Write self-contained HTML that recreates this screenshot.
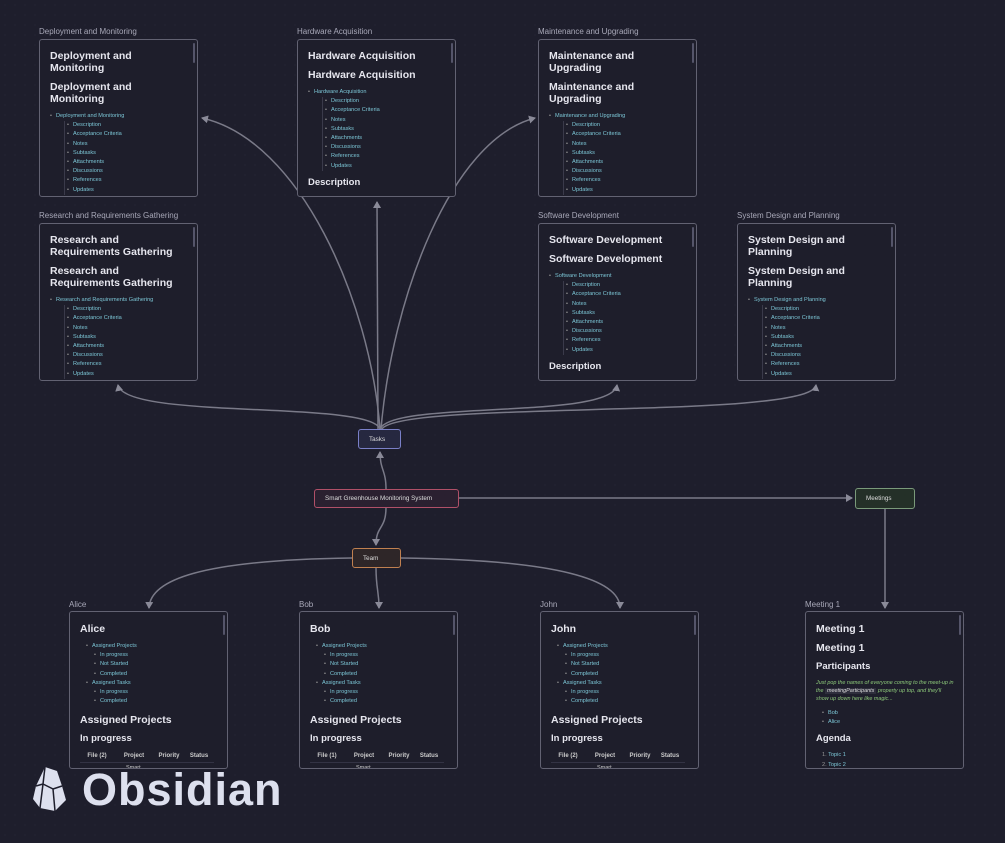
<!DOCTYPE html>
<html><head><meta charset="utf-8"><style>
*{margin:0;padding:0;box-sizing:border-box}
body{width:1005px;height:843px;background:#1e1e2c;font-family:"Liberation Sans",sans-serif;position:relative;overflow:hidden;
background-image:radial-gradient(#2a2a3a 0.6px,transparent 0.7px);background-size:10px 10px}
.lbl{position:absolute;font-size:8px;color:#a8a8b8;white-space:nowrap}
.card{position:absolute;width:159px;height:158px;border:1.3px solid #62627280;border-color:#626272;border-radius:3px;background:#1e1e2b;overflow:hidden;padding:10px 8px 0 10px}
.card:after{content:"";position:absolute;right:2px;top:3px;width:2px;height:20px;background:#55556a;border-radius:1px}
.h{font-size:10.5px;line-height:12px;font-weight:bold;color:#e6e6ee;margin-bottom:7px}
.h2{font-size:9.5px;line-height:12px;font-weight:bold;color:#e6e6ee;margin-bottom:6px}
ul,ol{list-style:none;font-size:5.6px;line-height:9.2px;color:#7cc6d6}
li.b:before{content:"•";color:#999;margin-right:4px}
ul.sub{margin-left:14px;border-left:1px solid #3a3a4a;padding-left:2px}
.node{position:absolute;border:1.5px solid;border-radius:3px;font-size:6.3px;color:#ddd;padding-left:10px;display:flex;align-items:center;background:#252534}
.tbl{display:flex;font-size:6px;color:#ccc;font-weight:bold;line-height:11px}
.tbl div{border-bottom:1px solid #333344;text-align:center}
.it{font-size:5.4px;line-height:8px;font-style:italic;color:#8dc87a;margin-bottom:6px}
.code{background:#2e2e3c;color:#ddd;padding:0 2px}
</style></head><body>
<svg width="1005" height="843" style="position:absolute;left:0;top:0">
<defs><marker id="a" markerWidth="8" markerHeight="8" refX="6" refY="4" orient="auto" markerUnits="userSpaceOnUse"><path d="M0,0 L7,4 L0,8 z" fill="#8a8a98"/></marker></defs>
<g fill="none" stroke="#7a7a88" stroke-width="1.5">
<path d="M380 429 C 370 300, 300 140, 202 118" marker-end="url(#a)"/>
<path d="M378 429 L377 202" marker-end="url(#a)"/>
<path d="M381 429 C 392 300, 450 140, 535 118" marker-end="url(#a)"/>
<path d="M380 429 C 370 400, 125 420, 118 385" marker-end="url(#a)"/>
<path d="M380 429 C 392 400, 612 420, 617 385" marker-end="url(#a)"/>
<path d="M382 429 C 400 400, 812 420, 816 385" marker-end="url(#a)"/>
<path d="M386 489 C 386 470, 380 470, 380 452" marker-end="url(#a)"/>
<path d="M458 498 L852 498" marker-end="url(#a)"/>
<path d="M885 509 L885 608" marker-end="url(#a)"/>
<path d="M386 507 C 386 530, 376 525, 376 545" marker-end="url(#a)"/>
<path d="M352 558 C 200 560, 150 580, 149 608" marker-end="url(#a)"/>
<path d="M376 567 C 376 590, 379 590, 379 608" marker-end="url(#a)"/>
<path d="M401 558 C 560 560, 620 580, 620 608" marker-end="url(#a)"/>
</g></svg>

<div class="lbl" style="left:39px;top:27px">Deployment and Monitoring</div>
<div class="card" style="left:39px;top:39px"><div class="h">Deployment and<br>Monitoring</div><div class="h">Deployment and<br>Monitoring</div>
<ul><li class="b">Deployment and Monitoring</li></ul><ul class="sub"><li class="b">Description</li><li class="b">Acceptance Criteria</li><li class="b">Notes</li><li class="b">Subtasks</li><li class="b">Attachments</li><li class="b">Discussions</li><li class="b">References</li><li class="b">Updates</li></ul></div>

<div class="lbl" style="left:297px;top:27px">Hardware Acquisition</div>
<div class="card" style="left:297px;top:39px"><div class="h">Hardware Acquisition</div><div class="h">Hardware Acquisition</div>
<ul><li class="b">Hardware Acquisition</li></ul><ul class="sub"><li class="b">Description</li><li class="b">Acceptance Criteria</li><li class="b">Notes</li><li class="b">Subtasks</li><li class="b">Attachments</li><li class="b">Discussions</li><li class="b">References</li><li class="b">Updates</li></ul><div class="h2" style="margin-top:6px">Description</div></div>

<div class="lbl" style="left:538px;top:27px">Maintenance and Upgrading</div>
<div class="card" style="left:538px;top:39px"><div class="h">Maintenance and<br>Upgrading</div><div class="h">Maintenance and<br>Upgrading</div>
<ul><li class="b">Maintenance and Upgrading</li></ul><ul class="sub"><li class="b">Description</li><li class="b">Acceptance Criteria</li><li class="b">Notes</li><li class="b">Subtasks</li><li class="b">Attachments</li><li class="b">Discussions</li><li class="b">References</li><li class="b">Updates</li></ul></div>

<div class="lbl" style="left:39px;top:211px">Research and Requirements Gathering</div>
<div class="card" style="left:39px;top:223px"><div class="h">Research and<br>Requirements Gathering</div><div class="h">Research and<br>Requirements Gathering</div>
<ul><li class="b">Research and Requirements Gathering</li></ul><ul class="sub"><li class="b">Description</li><li class="b">Acceptance Criteria</li><li class="b">Notes</li><li class="b">Subtasks</li><li class="b">Attachments</li><li class="b">Discussions</li><li class="b">References</li><li class="b">Updates</li></ul></div>

<div class="lbl" style="left:538px;top:211px">Software Development</div>
<div class="card" style="left:538px;top:223px"><div class="h">Software Development</div><div class="h">Software Development</div>
<ul><li class="b">Software Development</li></ul><ul class="sub"><li class="b">Description</li><li class="b">Acceptance Criteria</li><li class="b">Notes</li><li class="b">Subtasks</li><li class="b">Attachments</li><li class="b">Discussions</li><li class="b">References</li><li class="b">Updates</li></ul><div class="h2" style="margin-top:6px">Description</div></div>

<div class="lbl" style="left:737px;top:211px">System Design and Planning</div>
<div class="card" style="left:737px;top:223px"><div class="h">System Design and<br>Planning</div><div class="h">System Design and<br>Planning</div>
<ul><li class="b">System Design and Planning</li></ul><ul class="sub"><li class="b">Description</li><li class="b">Acceptance Criteria</li><li class="b">Notes</li><li class="b">Subtasks</li><li class="b">Attachments</li><li class="b">Discussions</li><li class="b">References</li><li class="b">Updates</li></ul></div>

<div class="node" style="left:358px;top:429px;width:43px;height:20px;border-color:#7a80c8;background:#262840">Tasks</div>
<div class="node" style="left:314px;top:489px;width:145px;height:19px;border-color:#b05068;background:#2a2030">Smart Greenhouse Monitoring System</div>
<div class="node" style="left:855px;top:488px;width:60px;height:21px;border-color:#7a9a7a;background:#243028">Meetings</div>
<div class="node" style="left:352px;top:548px;width:49px;height:20px;border-color:#c08050;background:#2e2628">Team</div>

<div class="lbl" style="left:69px;top:600px">Alice</div>
<div class="card" style="left:69px;top:611px;padding-top:11px"><div class="h">Alice</div>
<ul style="margin-left:6px"><li class="b">Assigned Projects</li><li style="margin-left:8px" class="b">In progress</li><li style="margin-left:8px" class="b">Not Started</li><li style="margin-left:8px" class="b">Completed</li><li class="b">Assigned Tasks</li><li style="margin-left:8px" class="b">In progress</li><li style="margin-left:8px" class="b">Completed</li></ul>
<div class="h" style="margin-top:8px">Assigned Projects</div><div class="h2">In progress</div>
<div class="tbl"><div style="width:34px">File (2)</div><div style="width:40px">Project</div><div style="width:30px">Priority</div><div style="width:30px">Status</div></div><div style="font-size:5.5px;color:#ccc;margin-left:46px;line-height:11px">Smart</div></div>

<div class="lbl" style="left:299px;top:600px">Bob</div>
<div class="card" style="left:299px;top:611px;padding-top:11px"><div class="h">Bob</div>
<ul style="margin-left:6px"><li class="b">Assigned Projects</li><li style="margin-left:8px" class="b">In progress</li><li style="margin-left:8px" class="b">Not Started</li><li style="margin-left:8px" class="b">Completed</li><li class="b">Assigned Tasks</li><li style="margin-left:8px" class="b">In progress</li><li style="margin-left:8px" class="b">Completed</li></ul>
<div class="h" style="margin-top:8px">Assigned Projects</div><div class="h2">In progress</div>
<div class="tbl"><div style="width:34px">File (1)</div><div style="width:40px">Project</div><div style="width:30px">Priority</div><div style="width:30px">Status</div></div><div style="font-size:5.5px;color:#ccc;margin-left:46px;line-height:11px">Smart</div></div>

<div class="lbl" style="left:540px;top:600px">John</div>
<div class="card" style="left:540px;top:611px;padding-top:11px"><div class="h">John</div>
<ul style="margin-left:6px"><li class="b">Assigned Projects</li><li style="margin-left:8px" class="b">In progress</li><li style="margin-left:8px" class="b">Not Started</li><li style="margin-left:8px" class="b">Completed</li><li class="b">Assigned Tasks</li><li style="margin-left:8px" class="b">In progress</li><li style="margin-left:8px" class="b">Completed</li></ul>
<div class="h" style="margin-top:8px">Assigned Projects</div><div class="h2">In progress</div>
<div class="tbl"><div style="width:34px">File (2)</div><div style="width:40px">Project</div><div style="width:30px">Priority</div><div style="width:30px">Status</div></div><div style="font-size:5.5px;color:#ccc;margin-left:46px;line-height:11px">Smart</div></div>

<div class="lbl" style="left:805px;top:600px">Meeting 1</div>
<div class="card" style="left:805px;top:611px;padding-top:11px"><div class="h">Meeting 1</div><div class="h">Meeting 1</div><div class="h2">Participants</div>
<div class="it">Just pop the names of everyone coming to the meet-up in the <span class="code">meetingParticipants</span> property up top, and they'll show up down here like magic...</div>
<ul style="margin-left:6px"><li class="b">Bob</li><li class="b">Alice</li></ul>
<div class="h2" style="margin-top:6px">Agenda</div>
<ul style="margin-left:6px"><li><span style="color:#999">1. </span>Topic 1</li><li><span style="color:#999">2. </span>Topic 2</li></ul></div>

<svg width="36" height="46" style="position:absolute;left:31px;top:766px" viewBox="0 0 36 46">
<path d="M14 1 L26 5 L31 20 L35 34 L24 45 L9 42 L2 33 L5 20 Z" fill="#dde0ee"/>
<path d="M14 1 L12 18 L5 20 M12 18 L22 23 L24 45 M22 23 L31 20 M12 18 L9 42" stroke="#1e1e2c" stroke-width="1.5" fill="none"/>
</svg>
<div style="position:absolute;left:82px;top:764px;font-size:45px;font-weight:bold;color:#dde0ee;letter-spacing:1px;line-height:52px">Obsidian</div>
</body></html>
